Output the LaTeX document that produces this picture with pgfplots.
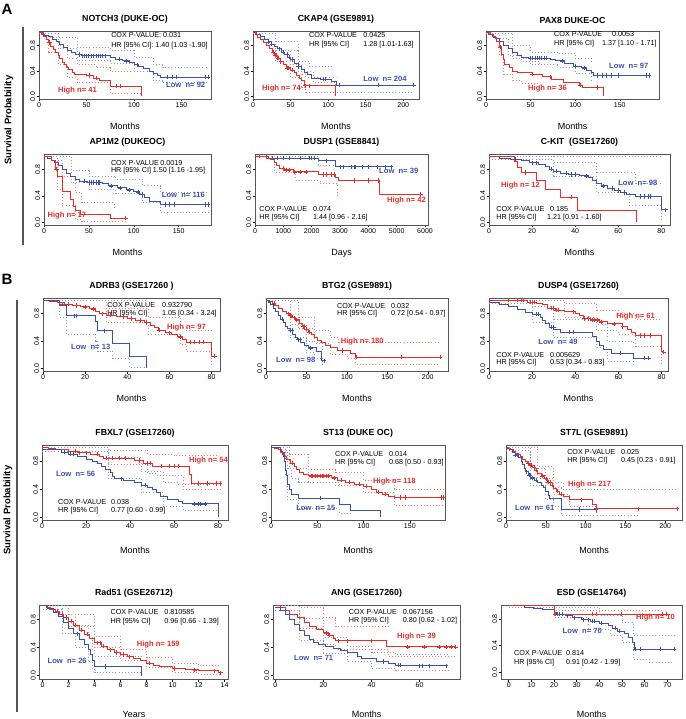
\documentclass[border=0pt]{standalone}
\usepackage{fontspec}
\setmainfont{Liberation Sans}
\usepackage{pgfplots}
\pgfplotsset{compat=1.18}
\definecolor{kmred}{RGB}{232,45,40}
\definecolor{kmblue}{RGB}{60,80,175}
\definecolor{boxc}{RGB}{85,85,85}
\newcommand{\tickf}{\fontsize{7}{8}\selectfont}
\pgfplotsset{
 km/.style={scale only axis, anchor=north west,
   ymin=-0.04, ymax=1.03, xmin=0,
   ytick={0,0.4,0.8}, yticklabels={0.0,0.4,0.8},
   tick pos=left, tick align=outside, major tick length=2.5pt,
   every tick/.style={black, line width=0.5pt},
   axis line style={boxc, line width=0.9pt},
   yticklabel style={rotate=90, anchor=south, font=\tickf, inner sep=1pt},
   xticklabel style={font=\tickf, inner sep=1pt},
   scaled ticks=false,
   /pgf/number format/assume math mode=true,
   /pgf/number format/1000 sep={},
   title style={font=\bfseries\fontsize{8.8}{9}\selectfont, yshift=-2pt},
   xlabel style={font=\fontsize{9}{10}\selectfont, yshift=-11pt},
   xlabel=Months,
 },
 hi/.style={kmred, line width=0.9pt, const plot, mark=none},
 lo/.style={kmblue, line width=0.9pt, const plot, mark=none},
 hc/.style={kmred!65, line width=0.75pt, dash pattern=on 0.9pt off 2.2pt, const plot, mark=none},
 lc/.style={kmblue!60, line width=0.75pt, dash pattern=on 0.9pt off 2.2pt, const plot, mark=none},
 him/.style={kmred, only marks, mark=+, mark size=2.1pt, mark options={line width=0.6pt}},
 lom/.style={kmblue, only marks, mark=+, mark size=2.1pt, mark options={line width=0.6pt}},
}
\tikzset{
 ct/.style={font=\fontsize{7.2}{8}\selectfont, anchor=west, inner sep=0pt},
 hn/.style={font=\bfseries\fontsize{7.6}{8}\selectfont, anchor=west, inner sep=0pt, text=kmred},
 ln/.style={font=\bfseries\fontsize{7.6}{8}\selectfont, anchor=west, inner sep=0pt, text=kmblue},
}
% label x, value1 x, value2 x, y1, y2, value1, value2
\newcommand{\cox}[7]{%
 \node[ct] at (rel axis cs:#1,#4) {COX P-VALUE};
 \node[ct] at (rel axis cs:#1,#5) {HR [95\% CI]};
 \node[ct] at (rel axis cs:#2,#4) {#6};
 \node[ct] at (rel axis cs:#3,#5) {#7};}
\begin{document}
\begin{tikzpicture}
\useasboundingbox (0,0) rectangle (685pt,-719pt);
% panel decorations
\node[font=\bfseries\fontsize{15}{15}\selectfont, inner sep=0pt] at (7pt,-9pt) {A};
\node[font=\bfseries\fontsize{15}{15}\selectfont, inner sep=0pt] at (7pt,-279pt) {B};
\draw[boxc, line width=1.2pt] (23pt,-27pt) -- (23pt,-245pt);
\draw[boxc, line width=1.2pt] (17pt,-300pt) -- (17pt,-712pt);
\node[rotate=90, font=\bfseries\fontsize{9.5}{10}\selectfont] at (9pt,-120pt) {Survival Probability};
\node[rotate=90, font=\bfseries\fontsize{9.5}{10}\selectfont] at (8pt,-510pt) {Survival Probability};

% ---------- 1 NOTCH3 ----------
\begin{axis}[km, at={(39pt,-31pt)}, width=172pt, height=68pt, xmax=181, xtick={0,50,100,150}, title={NOTCH3 (DUKE-OC)}]
\addplot[hc] coordinates {(0,1)(10,0.93)(20,0.8)(30,0.6)(40,0.5)(60,0.45)(75,0.39)(108,0.39)};
\addplot[hc] coordinates {(0,1)(10,0.7)(20,0.5)(30,0.3)(40,0.22)(75,0.05)(108,0.05)};
\addplot[lc] coordinates {(0,1)(20,0.93)(40,0.77)(75,0.73)(100,0.62)(120,0.5)(130,0.45)(178,0.45)};
\addplot[lc] coordinates {(0,1)(20,0.75)(40,0.56)(75,0.52)(100,0.4)(120,0.25)(130,0.22)(178,0.22)};
\addplot[lo] coordinates {(0,1)(3,0.98)(6,0.96)(10,0.94)(14,0.9)(18,0.86)(22,0.82)(26,0.77)(30,0.73)(34,0.69)(38,0.66)(45,0.64)(75,0.62)(80,0.59)(88,0.56)(95,0.53)(100,0.5)(105,0.47)(110,0.44)(116,0.4)(120,0.36)(125,0.33)(128,0.30)(178,0.30)};
\addplot[lom] coordinates {(42,0.66)(46,0.64)(48,0.64)(50,0.64)(52,0.64)(55,0.64)(57,0.64)(60,0.64)(62,0.64)(65,0.64)(67,0.64)(70,0.64)(85,0.59)(92,0.56)(103,0.5)(135,0.3)(140,0.3)(145,0.3)(175,0.3)(178,0.3)};
\addplot[hi] coordinates {(0,1)(5,0.95)(8,0.9)(10,0.85)(12,0.79)(15,0.74)(17,0.7)(20,0.65)(22,0.6)(25,0.53)(27,0.5)(29,0.45)(31,0.42)(35,0.38)(37,0.35)(50,0.33)(57,0.29)(64,0.25)(75,0.16)(108,0)};
\addplot[him] coordinates {(11,0.85)(53,0.33)(60,0.29)(81,0.16)(86,0.16)};
\node[ct] at (rel axis cs:0.419,0.94) {COX P-VALUE: 0.031};
\node[ct] at (rel axis cs:0.419,0.79) {HR [95\% CI]: 1.40 [1.03 -1.90]};
\node[hn] at (rel axis cs:0.11,0.13) {High n= 41};
\node[ln] at (rel axis cs:0.738,0.21) {Low\ \ n= 92};
\end{axis}

% ---------- 2 CKAP4 ----------
\begin{axis}[km, at={(253pt,-31pt)}, width=166pt, height=68pt, xmax=221, xtick={0,50,100,150,200}, title={CKAP4 (GSE9891)}]
\addplot[hc] coordinates {(0,1)(30,0.72)(50,0.5)(65,0.35)(70,0.3)(110,0.3)};
\addplot[hc] coordinates {(0,1)(30,0.55)(50,0.3)(65,0.15)(70,0.07)(110,0.07)};
\addplot[lc] coordinates {(0,1)(30,0.86)(60,0.55)(75,0.47)(105,0.44)};
\addplot[lc] coordinates {(0,1)(30,0.72)(60,0.39)(80,0.22)(110,0.07)(213,0.07)};
\addplot[lo] coordinates {(0,1)(5,0.97)(10,0.94)(15,0.9)(20,0.86)(25,0.82)(29,0.79)(33,0.75)(38,0.7)(42,0.66)(46,0.62)(50,0.58)(55,0.52)(60,0.47)(64,0.43)(68,0.38)(72,0.34)(78,0.29)(90,0.27)(104,0.24)(111,0.18)(214,0.18)};
\addplot[lom] coordinates {(20,0.86)(25,0.82)(35,0.75)(40,0.7)(45,0.66)(48,0.62)(52,0.58)(60,0.47)(93,0.27)(96,0.27)(115,0.18)(167,0.18)(214,0.18)};
\addplot[hi] coordinates {(0,1)(3,0.97)(6,0.93)(10,0.89)(14,0.85)(18,0.80)(22,0.76)(26,0.70)(29,0.65)(32,0.60)(36,0.55)(40,0.50)(44,0.45)(50,0.41)(55,0.37)(58,0.33)(62,0.29)(65,0.25)(69,0.17)(110,0)};
\addplot[him] coordinates {(27,0.7)(30,0.65)(31,0.65)(33,0.6)(34,0.6)(37,0.55)(45,0.45)(47,0.45)(52,0.41)(70,0.17)(75,0.17)};
\cox{0.337}{0.663}{0.663}{0.94}{0.80}{0.0425}{1.28 [1.01-1.63]}
\node[hn] at (rel axis cs:0.054,0.16) {High n= 74};
\node[ln] at (rel axis cs:0.663,0.29) {Low\ \ n= 204};
\end{axis}

% ---------- 3 PAX8 ----------
\begin{axis}[km, at={(486pt,-31pt)}, width=173pt, height=68pt, xmax=194, xtick={0,50,100,150}, title={PAX8 DUKE-OC}]
\addplot[hc] coordinates {(0,1)(15,0.92)(25,0.65)(40,0.55)(60,0.5)};
\addplot[hc] coordinates {(0,1)(15,0.65)(20,0.35)(30,0.25)(40,0.2)(60,0.15)};
\addplot[lc] coordinates {(0,1)(30,0.8)(50,0.7)(80,0.68)(100,0.6)(118,0.55)};
\addplot[lc] coordinates {(0,1)(30,0.6)(50,0.5)(80,0.45)(100,0.37)(118,0.22)};
\addplot[lo] coordinates {(0,1)(3,0.98)(7,0.95)(11,0.91)(15,0.86)(20,0.8)(25,0.75)(30,0.7)(35,0.65)(40,0.62)(48,0.6)(72,0.58)(78,0.56)(88,0.52)(98,0.48)(107,0.45)(113,0.41)(118,0.38)(120,0.33)(183,0.33)};
\addplot[lom] coordinates {(50,0.6)(52,0.6)(55,0.6)(57,0.6)(60,0.6)(62,0.6)(65,0.6)(68,0.6)(85,0.56)(100,0.48)(110,0.45)(125,0.33)(130,0.33)(135,0.33)(140,0.33)(148,0.33)(180,0.33)(183,0.33)};
\addplot[hi] coordinates {(0,1)(5,0.97)(8,0.93)(12,0.86)(15,0.78)(17,0.66)(19,0.58)(21,0.5)(26,0.45)(30,0.40)(35,0.37)(52,0.35)(63,0.31)(73,0.27)(87,0.22)(105,0.18)(108,0.14)(132,0)};
\addplot[him] coordinates {(16,0.78)(52,0.35)(72,0.31)(106,0.18)(125,0.14)};
\cox{0.393}{0.728}{0.67}{0.95}{0.82}{0.0053}{1.37 [1.10 - 1.71]}
\node[hn] at (rel axis cs:0.243,0.15) {High n= 36};
\node[ln] at (rel axis cs:0.711,0.485) {Low\ \ n= 97};
\end{axis}

% ---------- 4 AP1M2 ----------
\begin{axis}[km, at={(44pt,-154pt)}, width=167pt, height=71pt, xmax=186, xtick={0,50,100,150}, title={AP1M2 (DUKEOC)}]
\addplot[hc] coordinates {(0,1)(15,0.93)(20,0.7)(35,0.45)(42,0.3)(78,0.2)};
\addplot[hc] coordinates {(0,1)(15,0.5)(20,0.25)(35,0.05)(42,0.02)(90,0.02)};
\addplot[lc] coordinates {(0,1)(30,0.78)(50,0.7)(80,0.65)(110,0.55)(130,0.45)(183,0.45)};
\addplot[lc] coordinates {(0,1)(30,0.6)(50,0.5)(80,0.44)(110,0.3)(130,0.15)(183,0.15)};
\addplot[lo] coordinates {(0,1)(4,0.97)(8,0.94)(12,0.9)(16,0.85)(20,0.8)(25,0.74)(30,0.69)(35,0.65)(40,0.62)(48,0.6)(65,0.58)(72,0.55)(82,0.52)(92,0.49)(100,0.46)(106,0.42)(112,0.38)(118,0.32)(130,0.27)(183,0.27)};
\addplot[lom] coordinates {(45,0.62)(50,0.6)(53,0.6)(55,0.6)(58,0.6)(60,0.6)(62,0.6)(75,0.55)(85,0.52)(95,0.49)(105,0.46)(110,0.42)(135,0.27)(140,0.27)(145,0.27)(180,0.27)(183,0.27)};
\addplot[hi] coordinates {(0,1)(8,0.94)(13,0.8)(15,0.69)(20,0.47)(30,0.35)(33,0.24)(35,0.18)(41,0.12)(74,0.06)(91,0.06)};
\addplot[him] coordinates {(14,0.8)(91,0.06)};
\cox{0.40}{0.695}{0.65}{0.87}{0.76}{0.0019}{1.50 [1.16 -1.95]}
\node[hn] at (rel axis cs:0.02,0.13) {High n= 17};
\node[ln] at (rel axis cs:0.705,0.42) {Low\ \ n= 116};
\end{axis}

% ---------- 5 DUSP1 ----------
\begin{axis}[km, at={(255pt,-154pt)}, width=173pt, height=71pt, xmax=6106, xtick={0,1000,2000,3000,4000,5000,6000}, title={DUSP1 (GSE8841)}, xlabel={Days}]
\addplot[hc] coordinates {(0,1)(700,0.75)(1430,0.63)(2290,0.58)(2900,0.38)};
\addplot[lc] coordinates {(0,1)(2230,0.86)(2830,0.86)};
\addplot[lo] coordinates {(0,1)(470,0.97)(2230,0.93)(2830,0.84)(4800,0.84)};
\addplot[lom] coordinates {(600,0.97)(800,0.97)(1000,0.97)(1200,0.97)(1600,0.97)(1900,0.97)(2000,0.97)(2100,0.97)(2500,0.93)(3000,0.84)(3100,0.84)(3400,0.84)(3500,0.84)(3550,0.84)(3800,0.84)(4000,0.84)(4300,0.84)(4600,0.84)(4800,0.84)};
\addplot[hi] coordinates {(0,1)(400,0.97)(560,0.95)(680,0.9)(760,0.85)(850,0.81)(1050,0.79)(1350,0.76)(2250,0.72)(2830,0.67)(2930,0.63)(4380,0.42)(5850,0.42)};
\addplot[him] coordinates {(150,1)(400,1)(1000,0.81)(1100,0.79)(1200,0.79)(1400,0.76)(1600,0.76)(1800,0.76)(2400,0.72)(2500,0.72)(2700,0.72)(2800,0.72)(3500,0.63)(4000,0.63)(4350,0.63)(5850,0.42)};
\cox{0.024}{0.335}{0.335}{0.225}{0.11}{0.074}{1.44 [0.96 - 2.16]}
\node[hn] at (rel axis cs:0.763,0.34) {High n= 42};
\node[ln] at (rel axis cs:0.717,0.76) {Low\ \ n= 39};
\end{axis}

% ---------- 6 C-KIT ----------
\begin{axis}[km, at={(489pt,-154pt)}, width=181pt, height=71pt, xmax=84, xtick={0,20,40,60,80}, title={C-KIT\ \ (GSE17260)}]
\addplot[hc] coordinates {(0,1)(25,1)(80,1)};
\addplot[lc] coordinates {(0,1)(30,0.9)(50,0.75)(68,0.58)(80,0.58)};
\addplot[lc] coordinates {(0,0.95)(30,0.7)(50,0.45)(65,0.26)(80,0.26)(80,0)};
\addplot[lo] coordinates {(0,0.99)(5,0.97)(10,0.95)(15,0.93)(19,0.9)(23,0.87)(26,0.84)(28,0.8)(30,0.77)(33,0.74)(37,0.72)(42,0.7)(46,0.67)(48,0.63)(50,0.59)(52,0.55)(55,0.51)(58,0.48)(61,0.45)(64,0.42)(68,0.39)(80,0.19)(82,0.19)};
\addplot[lom] coordinates {(12,0.95)(20,0.9)(22,0.9)(29,0.8)(31,0.77)(36,0.74)(38,0.72)(40,0.72)(45,0.7)(53,0.55)(57,0.51)(60,0.48)(63,0.45)(70,0.39)(72,0.39)(74,0.39)(75,0.39)(82,0.19)};
\addplot[hi] coordinates {(0,1)(12,0.92)(13,0.83)(15,0.75)(22,0.63)(26,0.5)(33,0.38)(41,0.18)(68.3,0)};
\addplot[him] coordinates {(17,0.75)(38,0.38)};
\cox{0.04}{0.337}{0.32}{0.225}{0.11}{0.185}{1.21 [0.91 - 1.60]}
\node[hn] at (rel axis cs:0.066,0.56) {High n= 12};
\node[ln] at (rel axis cs:0.713,0.60) {Low\ \ n= 98};
\end{axis}

% ---------- 7 ADRB3 ----------
\begin{axis}[km, at={(43pt,-298pt)}, width=177pt, height=73pt, xmax=84, xtick={0,20,40,60,80}, title={ADRB3 (GSE17260 )}]
\addplot[hc] coordinates {(0,1)(30,0.88)(50,0.75)(65,0.6)(68,0.55)(80,0.55)};
\addplot[hc] coordinates {(0,1)(30,0.68)(50,0.5)(65,0.35)(68,0.25)(80,0.2)(80,0.05)};
\addplot[lc] coordinates {(0,1)(41,1)(49,1)};
\addplot[lc] coordinates {(0,1)(8,0.75)(11,0.5)(25,0.4)(26,0.25)(33,0.15)(41,0.02)(49,0.02)};
\addplot[hi] coordinates {(0,1)(3,0.98)(7,0.96)(10,0.94)(14,0.92)(18,0.9)(22,0.87)(25,0.84)(27,0.8)(30,0.78)(35,0.76)(40,0.73)(44,0.7)(48,0.67)(51,0.63)(53,0.6)(55,0.56)(58,0.52)(61,0.5)(64,0.46)(66,0.42)(68,0.38)(80,0.18)(81.5,0.18)};
\addplot[him] coordinates {(9,0.94)(12,0.94)(16,0.92)(20,0.9)(24,0.87)(28,0.8)(32,0.78)(38,0.76)(42,0.73)(46,0.7)(49,0.67)(55,0.56)(60,0.52)(65,0.46)(70,0.38)(72,0.38)(74,0.38)(76,0.38)(81.5,0.18)};
\addplot[lo] coordinates {(0,1)(8,0.92)(11,0.77)(25,0.69)(26,0.55)(33,0.37)(41,0.18)(49,0)};
\addplot[lom] coordinates {(15,0.77)(16,0.77)(29,0.55)};
\cox{0.362}{0.672}{0.672}{0.90}{0.78}{0.932790}{1.05 [0.34 - 3.24]}
\node[hn] at (rel axis cs:0.70,0.59) {High n= 97};
\node[ln] at (rel axis cs:0.158,0.33) {Low\ \ n= 13};
\end{axis}

% ---------- 8 BTG2 ----------
\begin{axis}[km, at={(266pt,-298pt)}, width=182pt, height=73pt, xmax=225, xtick={0,50,100,150,200}, title={BTG2 (GSE9891)}]
\addplot[hc] coordinates {(0,1)(40,0.75)(60,0.55)(80,0.45)(90,0.38)(215,0.38)};
\addplot[hc] coordinates {(0,1)(40,0.58)(60,0.37)(80,0.2)(100,0.15)(111,0.06)(215,0.06)};
\addplot[lc] coordinates {(0,1)(30,0.65)(50,0.4)(60,0.38)(70,0.25)};
\addplot[lc] coordinates {(0,1)(30,0.45)(50,0.23)(60,0.15)(70,0.03)};
\addplot[hi] coordinates {(0,1)(4,0.98)(8,0.95)(12,0.92)(16,0.88)(20,0.84)(25,0.8)(29,0.77)(33,0.74)(37,0.71)(41,0.66)(45,0.61)(48,0.57)(52,0.53)(56,0.49)(60,0.45)(64,0.41)(68,0.38)(74,0.34)(80,0.3)(88,0.26)(105,0.21)(111,0.16)(215,0.16)};
\addplot[him] coordinates {(10,0.95)(28,0.8)(30,0.77)(31,0.77)(35,0.74)(38,0.71)(46,0.61)(47,0.61)(50,0.57)(53,0.53)(94,0.26)(112,0.16)(167,0.16)(215,0.16)};
\addplot[lo] coordinates {(0,1)(3,0.97)(6,0.93)(9,0.88)(12,0.83)(15,0.78)(18,0.72)(21,0.67)(24,0.62)(27,0.58)(30,0.56)(33,0.5)(36,0.45)(39,0.42)(43,0.38)(48,0.34)(53,0.3)(57,0.3)(62,0.24)(68,0.19)(69,0.11)(72,0.11)};
\addplot[lom] coordinates {(20,0.72)(30,0.56)(32,0.56)(40,0.42)(42,0.42)(55,0.3)(72,0.11)};
\cox{0.39}{0.687}{0.687}{0.89}{0.78}{0.032}{0.72 [0.54 - 0.97]}
\node[hn] at (rel axis cs:0.41,0.40) {High n= 180};
\node[ln] at (rel axis cs:0.055,0.15) {Low\ \ n= 98};
\end{axis}

% ---------- 9 DUSP4 ----------
\begin{axis}[km, at={(489pt,-298pt)}, width=179pt, height=73pt, xmax=83, xtick={0,20,40,60,80}, title={DUSP4 (GSE17260)}]
\addplot[hc] coordinates {(0,1)(35,0.95)(50,0.85)(60,0.8)(68,0.72)(80,0.72)};
\addplot[hc] coordinates {(0,1)(35,0.75)(50,0.55)(60,0.5)(68,0.32)(80,0.32)(80,0.05)};
\addplot[lc] coordinates {(0,1)(20,0.9)(30,0.72)(50,0.65)(55,0.4)(67,0.35)};
\addplot[lc] coordinates {(0,0.95)(20,0.68)(30,0.45)(50,0.3)(55,0.1)(67,0.05)};
\addplot[hi] coordinates {(0,1)(18,0.97)(22,0.95)(25,0.93)(27,0.88)(31,0.85)(35,0.83)(40,0.8)(42,0.77)(44,0.73)(47,0.71)(51,0.68)(55,0.65)(62,0.61)(64,0.57)(66,0.53)(68,0.48)(80,0.24)(81,0.24)};
\addplot[him] coordinates {(9,1)(13,1)(15,1)(16,1)(19,0.97)(20,0.97)(21,0.97)(29,0.88)(30,0.88)(31,0.85)(32,0.85)(39,0.83)(44,0.73)(46,0.73)(48,0.71)(49,0.71)(50,0.71)(52,0.68)(58,0.65)(62,0.61)(70,0.48)(72,0.48)(75,0.48)(81,0.24)};
\addplot[lo] coordinates {(0,0.97)(5,0.94)(9,0.9)(13,0.86)(17,0.82)(20,0.79)(24,0.74)(25,0.7)(26,0.65)(28,0.6)(30,0.57)(33,0.53)(48,0.47)(50,0.4)(51,0.34)(53,0.28)(57,0.22)(67,0.15)(74,0.15)};
\addplot[lom] coordinates {(22,0.79)(23,0.79)(29,0.6)(30,0.6)(37,0.53)(39,0.53)(61,0.22)(72,0.15)(74,0.15)};
\cox{0.04}{0.34}{0.34}{0.22}{0.11}{0.005629}{0.53 [0.34 - 0.83]}
\node[hn] at (rel axis cs:0.71,0.75) {High n= 61};
\node[ln] at (rel axis cs:0.275,0.40) {Low\ \ n= 49};
\end{axis}

% ---------- 10 FBXL7 ----------
\begin{axis}[km, at={(42pt,-445pt)}, width=186pt, height=75pt, xmax=84.5, xtick={0,20,40,60,80}, title={FBXL7 (GSE17260)}, xlabel style={yshift=-3pt}]
\addplot[hc] coordinates {(0,1)(30,0.96)(48,0.9)(60,0.88)(80,0.88)};
\addplot[hc] coordinates {(0,1)(30,0.75)(48,0.62)(52,0.6)(64,0.4)(81,0.4)};
\addplot[lc] coordinates {(0,1)(30,0.85)(45,0.65)(55,0.5)(62,0.47)(80,0.47)};
\addplot[lc] coordinates {(0,0.94)(30,0.55)(45,0.35)(55,0.15)(64,0.1)(80,0.1)};
\addplot[hi] coordinates {(0,1)(3,0.98)(6,0.96)(12,0.94)(17,0.92)(22,0.9)(26,0.87)(28,0.84)(42,0.81)(46,0.77)(50,0.73)(67,0.61)(68,0.48)(81,0.48)};
\addplot[him] coordinates {(15,0.94)(17,0.92)(20,0.92)(25,0.9)(29,0.84)(32,0.84)(35,0.84)(38,0.84)(44,0.81)(48,0.77)(49,0.77)(54,0.73)(58,0.73)(60,0.73)(62,0.73)(71,0.48)(75,0.48)(79,0.48)(81,0.48)};
\addplot[lo] coordinates {(0,0.97)(5,0.96)(9,0.93)(12,0.9)(16,0.87)(20,0.83)(23,0.8)(25,0.76)(27,0.72)(29,0.68)(31,0.64)(32,0.58)(33,0.55)(37,0.52)(42,0.49)(45,0.46)(48,0.43)(50,0.4)(52,0.35)(54,0.3)(57,0.25)(62,0.22)(64,0.19)(80,0)};
\addplot[lom] coordinates {(10,0.93)(13,0.9)(14,0.9)(36,0.55)(47,0.46)(69,0.19)(71,0.19)(72,0.19)(74,0.19)};
\cox{0.086}{0.37}{0.37}{0.24}{0.12}{0.038}{0.77 [0.60 - 0.99]}
\node[hn] at (rel axis cs:0.79,0.79) {High n= 54};
\node[ln] at (rel axis cs:0.075,0.61) {Low\ \ n= 56};
\end{axis}

% ---------- 11 ST13 ----------
\begin{axis}[km, at={(271pt,-445pt)}, width=174pt, height=75pt, xmax=188, xtick={0,50,100,150}, title={ST13 (DUKE OC)}, xlabel style={yshift=-3pt}]
\addplot[hc] coordinates {(0,1)(20,0.9)(40,0.68)(70,0.64)(100,0.53)(133,0.4)(186,0.4)};
\addplot[hc] coordinates {(0,1)(20,0.7)(40,0.5)(70,0.45)(100,0.35)(133,0.17)(186,0.17)};
\addplot[lc] coordinates {(0,1)(15,0.95)(18,0.7)(22,0.55)(30,0.5)(74,0.45)};
\addplot[lc] coordinates {(0,1)(15,0.6)(18,0.25)(30,0.12)(74,0.05)(86,0.05)};
\addplot[hi] coordinates {(0,1)(4,0.98)(8,0.96)(11,0.92)(14,0.87)(17,0.82)(21,0.77)(25,0.72)(28,0.68)(31,0.64)(35,0.61)(40,0.59)(65,0.56)(72,0.53)(80,0.5)(90,0.47)(100,0.44)(108,0.4)(114,0.36)(120,0.33)(127,0.3)(133,0.28)(186,0.28)};
\addplot[him] coordinates {(12,0.92)(23,0.77)(43,0.59)(45,0.59)(48,0.59)(50,0.59)(53,0.59)(55,0.59)(57,0.59)(60,0.59)(62,0.59)(68,0.56)(76,0.53)(85,0.5)(95,0.47)(103,0.44)(116,0.36)(123,0.33)(140,0.28)(145,0.28)(184,0.28)(186,0.28)};
\addplot[lo] coordinates {(0,1)(10,0.93)(13,0.87)(15,0.8)(16,0.67)(17,0.6)(18,0.47)(20,0.4)(22,0.33)(30,0.27)(74,0.18)(86,0.09)(118,0)};
\addplot[lom] coordinates {(53,0.27)};
\cox{0.368}{0.678}{0.678}{0.88}{0.76}{0.014}{0.68 [0.50 - 0.93]}
\node[hn] at (rel axis cs:0.586,0.51) {High n= 118};
\node[ln] at (rel axis cs:0.144,0.16) {Low\ \ n= 15};
\end{axis}

% ---------- 12 ST7L ----------
\begin{axis}[km, at={(506pt,-445pt)}, width=176pt, height=75pt, xmax=221, xtick={0,50,100,150,200}, title={ST7L (GSE9891)}, xlabel style={yshift=-3pt}]
\addplot[hc] coordinates {(0,1)(40,0.72)(60,0.5)(72,0.4)(215,0.4)};
\addplot[hc] coordinates {(0,1)(40,0.55)(60,0.32)(80,0.15)(113,0.05)};
\addplot[lc] coordinates {(0,1)(30,0.7)(50,0.5)(60,0.42)(70,0.4)(165,0.4)};
\addplot[lc] coordinates {(0,0.95)(30,0.45)(50,0.25)(60,0.15)(70,0.03)(165,0.03)};
\addplot[lo] coordinates {(0,0.98)(4,0.96)(8,0.93)(12,0.89)(16,0.85)(19,0.8)(21,0.75)(23,0.7)(25,0.65)(28,0.6)(31,0.56)(36,0.53)(40,0.5)(44,0.46)(47,0.42)(50,0.37)(53,0.31)(55,0.27)(69,0.11)(113,0.11)};
\addplot[lom] coordinates {(12,0.89)(14,0.89)(26,0.65)(29,0.6)(30,0.6)(33,0.56)(38,0.53)(92,0.11)(113,0.11)};
\addplot[hi] coordinates {(0,1)(3,0.98)(6,0.96)(9,0.94)(12,0.91)(15,0.89)(18,0.86)(21,0.83)(24,0.8)(27,0.77)(30,0.74)(33,0.71)(36,0.67)(40,0.63)(44,0.59)(48,0.55)(52,0.5)(56,0.46)(60,0.41)(63,0.37)(67,0.33)(72,0.29)(80,0.25)(108,0.18)(113,0.12)(215,0.12)};
\addplot[him] coordinates {(28,0.77)(30,0.74)(32,0.74)(35,0.71)(38,0.67)(45,0.59)(50,0.55)(53,0.5)(55,0.5)(58,0.46)(65,0.37)(70,0.33)(95,0.25)(113,0.12)(166,0.12)(215,0.12)};
\cox{0.347}{0.653}{0.653}{0.91}{0.79}{0.025}{0.45 [0.23 - 0.91]}
\node[hn] at (rel axis cs:0.352,0.47) {High n= 217};
\node[ln] at (rel axis cs:0.051,0.16) {Low\ \ n= 61};
\end{axis}

% ---------- 13 Rad51 ----------
\begin{axis}[km, at={(39.5pt,-605pt)}, width=189pt, height=74pt, xmin=-0.24, xmax=14.3, ymin=-0.05, ymax=1.01, xtick={0,2,4,6,8,10,12,14}, title={Rad51 (GSE26712)}, xlabel={Years}, xlabel style={yshift=-8pt}]
\addplot[hc] coordinates {(0,1)(2,0.88)(4,0.56)(6,0.38)(8,0.26)(10,0.18)(12,0.14)(13.7,0.14)};
\addplot[hc] coordinates {(0,1)(2,0.7)(4,0.4)(6,0.22)(8,0.12)(10,0.05)(12,0.02)(13.7,0.01)};
\addplot[lc] coordinates {(0,1)(1.5,0.88)(2.5,0.72)(3.5,0.55)(3.8,0.38)(4,0.28)(7.6,0.28)};
\addplot[lc] coordinates {(0,0.95)(1.5,0.6)(2.5,0.4)(3.5,0.2)(3.8,0.1)(4,0.04)(7.6,0.04)};
\addplot[hi] coordinates {(0,1)(0.3,0.98)(0.6,0.95)(1,0.92)(1.3,0.88)(1.6,0.83)(2,0.78)(2.4,0.72)(2.8,0.65)(3.2,0.59)(3.6,0.53)(4,0.47)(4.5,0.42)(5,0.37)(5.5,0.33)(6,0.3)(6.5,0.27)(7,0.25)(7.5,0.22)(8,0.18)(8.5,0.15)(9,0.13)(10,0.1)(11,0.08)(12,0.07)(13.5,0.04)(13.7,0.04)};
\addplot[him] coordinates {(1.1,0.92)(1.5,0.88)(1.8,0.83)(2.2,0.78)(2.5,0.72)(3,0.65)(3.4,0.59)(4.2,0.47)(4.4,0.47)(4.7,0.42)(5.2,0.37)(5.7,0.33)(6.2,0.3)(6.7,0.27)(8.2,0.18)(10.1,0.1)(11.7,0.08)(13.2,0.07)(13.7,0.04)};
\addplot[lo] coordinates {(0,1)(0.4,0.96)(0.8,0.9)(1.2,0.84)(1.6,0.76)(2,0.68)(2.4,0.6)(2.8,0.52)(3.2,0.45)(3.5,0.38)(3.7,0.3)(3.8,0.21)(4.0,0.13)(7.6,0)};
\addplot[lom] coordinates {(2.7,0.6)(4.8,0.13)};
\cox{0.375}{0.66}{0.66}{0.905}{0.78}{0.810585}{0.96 [0.66 - 1.39]}
\node[hn] at (rel axis cs:0.514,0.46) {High n= 159};
\node[ln] at (rel axis cs:0.042,0.24) {Low\ \ n= 26};
\end{axis}

% ---------- 14 ANG ----------
\begin{axis}[km, at={(273pt,-605pt)}, width=187pt, height=74pt, xmin=-1, xmax=76.8, ymin=-0.05, ymax=1.01, xtick={0,20,40,60}, title={ANG (GSE17260)}, xlabel style={yshift=-8pt}]
\addplot[hc] coordinates {(0,1)(10,0.97)(20,0.83)(25,0.7)(47,0.7)};
\addplot[hc] coordinates {(0,1)(10,0.68)(20,0.45)(25,0.38)(47,0.27)(75,0.27)};
\addplot[lc] coordinates {(0,1)(10,0.82)(20,0.55)(30,0.42)(40,0.33)(50,0.3)(72,0.3)};
\addplot[lc] coordinates {(0,0.93)(10,0.5)(20,0.32)(30,0.2)(40,0.1)(50,0.07)(72,0.07)};
\addplot[hi] coordinates {(0,1)(2,0.97)(4,0.93)(6,0.88)(9,0.83)(12,0.76)(14,0.7)(17,0.66)(20,0.61)(22,0.58)(24,0.53)(25,0.5)(46,0.41)(75,0.41)};
\addplot[him] coordinates {(21,0.61)(22.5,0.58)(26,0.5)(30,0.5)(40,0.5)(55,0.41)(62,0.41)(68,0.41)(71,0.41)(73,0.41)(75,0.41)};
\addplot[lo] coordinates {(0,0.97)(2,0.93)(4,0.88)(6,0.8)(8,0.73)(10,0.65)(12,0.58)(14,0.52)(16,0.48)(18,0.45)(21,0.42)(24,0.39)(27,0.36)(30,0.33)(34,0.27)(36,0.24)(42,0.2)(47,0.17)(50,0.15)(55,0.14)(72,0.14)};
\addplot[lom] coordinates {(45,0.2)(51,0.15)(52,0.15)(60,0.14)(61,0.14)(64,0.14)(71,0.14)};
\cox{0.405}{0.693}{0.693}{0.91}{0.79}{0.067156}{0.80 [0.62 - 1.02]}
\node[hn] at (rel axis cs:0.663,0.57) {High n= 39};
\node[ln] at (rel axis cs:0.112,0.28) {Low\ \ n= 71};
\end{axis}

% ---------- 15 ESD ----------
\begin{axis}[km, at={(501pt,-605pt)}, width=181pt, height=74pt, xmin=-3.4, xmax=76.5, ymin=-0.1, ymax=1.01, xtick={0,10,20,30,40,50,60,70}, title={ESD (GSE14764)}, xlabel style={yshift=-8pt}]
\addplot[hc] coordinates {(20,1)(21,0.93)(68,0.93)};
\addplot[lc] coordinates {(0,1)(20,0.97)(40,0.85)(50,0.75)(55,0.55)(73,0.55)};
\addplot[lc] coordinates {(0,0.97)(20,0.82)(35,0.65)(45,0.55)(50,0.45)(55,0.2)(62,0.15)(73,0.15)};
\addplot[lo] coordinates {(0,1)(7,0.98)(11,0.96)(15,0.94)(20,0.9)(21,0.87)(25,0.85)(28,0.82)(32,0.79)(36,0.77)(40,0.74)(44,0.7)(46,0.66)(48,0.62)(51,0.58)(53,0.52)(54.5,0.45)(55.5,0.35)(73,0.35)};
\addplot[lom] coordinates {(21.5,0.87)(22.5,0.87)(23.5,0.87)(26,0.85)(29,0.82)(33,0.79)(35,0.79)(37,0.77)(38,0.77)(41,0.74)(47,0.66)(49,0.62)(56,0.35)(58,0.35)(67,0.35)(73,0.35)};
\addplot[hi] coordinates {(0,1)(20.4,0.875)(71,0.875)};
\addplot[him] coordinates {(20.4,0.875)(37,0.875)(38.5,0.875)(49.6,0.875)(67.7,0.875)(69.6,0.875)};
\cox{0.072}{0.358}{0.358}{0.35}{0.22}{0.814}{0.91 [0.42 - 1.99]}
\node[hn] at (rel axis cs:0.746,0.83) {High n= 10};
\node[ln] at (rel axis cs:0.34,0.65) {Low\ \ n= 70};
\end{axis}
\end{tikzpicture}
\end{document}
